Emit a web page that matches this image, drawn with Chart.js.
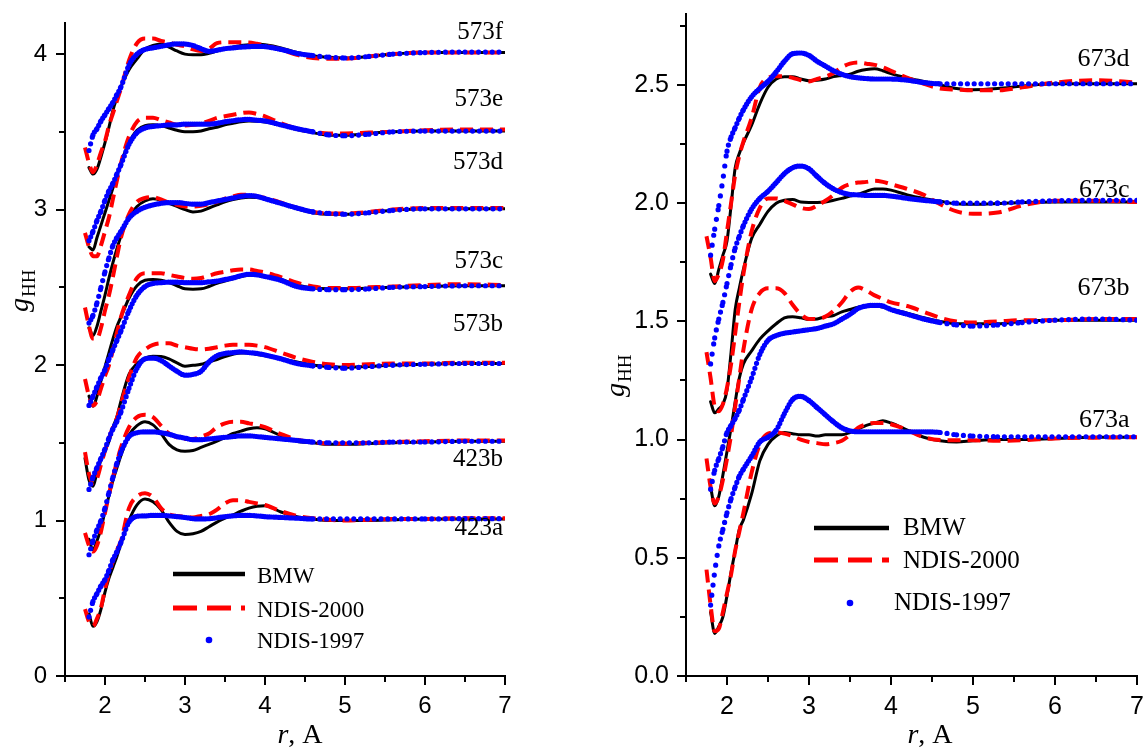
<!DOCTYPE html>
<html><head><meta charset="utf-8">
<script src="https://cdn.jsdelivr.net/npm/chart.js@4.4.0/dist/chart.umd.min.js"></script>
<style>
html,body{margin:0;padding:0;background:#fff;}
#wrap{position:relative;width:1145px;height:749px;overflow:hidden;}
#L{position:absolute;left:0;top:0;width:560px;height:749px;}
#R{position:absolute;left:560px;top:0;width:585px;height:749px;}
</style>
</head><body>
<div id="wrap"><div id="L"><canvas id="cL"></canvas></div><div id="R"><canvas id="cR"></canvas></div></div>
<script>
// ---------- shared r grid (Angstrom) ----------
const r = [1.75,1.8,1.85,1.9,1.95, 2.0,2.05,2.1,2.15,2.2, 2.3,2.4,2.5,2.6,2.7, 2.8,2.9,3.0,3.1,3.2,
           3.3,3.4,3.5,3.6,3.7, 3.8,3.9,4.0,4.2,4.4, 4.6,4.8,5.0,5.3,5.6, 6.0,6.5,7.0];

// ---------- tick labels ----------
const X_TICKS = [2,3,4,5,6,7];
const X_MINOR = [1.5,2.5,3.5,4.5,5.5,6.5];
const Y_TICKS_L = [0,1,2,3,4];
const Y_MINOR_L = [0.5,1.5,2.5,3.5];
const Y_TICKS_R = [0,0.5,1,1.5,2,2.5];
const Y_MINOR_R = [0.25,0.75,1.25,1.75,2.25,2.75];

const SERIES = ['BMW','NDIS-2000','NDIS-1997'];
const LABELS_L = ['573f','573e','573d','573c','573b','423b','423a'];
const LABELS_R = ['673d','673c','673b','673a'];

// ---------- left panel data ----------
const bmw_423a = [null,0.4,0.32,0.35,0.43, 0.54,0.63,0.7,0.77,0.85, 1.0,1.1,1.138,1.12,1.07, 0.99,0.93,0.91,0.915,0.93, 0.96,0.99,1.015,1.037,1.06, 1.08,1.092,1.095,1.055,1.025, 1.01,1.0,1.0,1.0,1.005, 1.01,1.01,1.01];
const n2000_423a = [0.43,0.35,0.32,0.37,0.44, 0.56,0.66,0.74,0.81,0.87, 1.08,1.155,1.175,1.15,1.08, 1.04,1.03,1.025,1.02,1.03, 1.04,1.07,1.11,1.13,1.13, 1.12,1.11,1.1,1.06,1.03, 1.015,1.005,1.0,1.005,1.01, 1.01,1.015,1.015];
const n1997_423a = [null,0.38,0.48,0.53,0.58, 0.62,0.68,0.75,0.8,0.86, 0.99,1.027,1.03,1.033,1.033, 1.03,1.025,1.02,1.012,1.01, 1.012,1.018,1.025,1.03,1.033, 1.033,1.03,1.025,1.02,1.015, 1.01,1.01,1.01,1.01,1.01, 1.01,1.012,1.012];

const bmw_423b = [null,0.88,0.81,0.87,0.95, 1.06,1.16,1.26,1.34,1.42, 1.55,1.61,1.635,1.615,1.56, 1.49,1.455,1.445,1.45,1.47, 1.49,1.51,1.535,1.56,1.575, 1.59,1.597,1.59,1.545,1.51, 1.5,1.49,1.49,1.495,1.5, 1.505,1.51,1.51];
const n2000_423b = [0.92,0.84,0.8,0.84,0.93, 1.05,1.17,1.28,1.38,1.47, 1.6,1.665,1.68,1.665,1.61, 1.56,1.535,1.525,1.525,1.54, 1.56,1.6,1.625,1.635,1.635, 1.625,1.615,1.6,1.555,1.52, 1.505,1.495,1.495,1.5,1.505, 1.51,1.515,1.515];
const n1997_423b = [null,0.78,0.87,0.94,1.0, 1.08,1.18,1.28,1.37,1.44, 1.54,1.565,1.57,1.57,1.565, 1.555,1.54,1.53,1.52,1.52, 1.525,1.53,1.535,1.54,1.545, 1.545,1.54,1.535,1.525,1.515, 1.505,1.5,1.5,1.5,1.505, 1.505,1.51,1.51];

const bmw_573b = [1.4,1.26,1.22,1.31,1.39, 1.45,1.51,1.6,1.67,1.77, 1.94,2.01,2.045,2.057,2.055, 2.04,2.014,1.993,1.998,2.005, 2.022,2.035,2.055,2.07,2.078, 2.078,2.068,2.06,2.04,2.02, 2.0,1.99,1.985,1.99,2.0, 2.005,2.01,2.01];
const n2000_573b = [1.44,1.3,1.24,1.27,1.36, 1.45,1.53,1.6,1.66,1.75, 1.92,2.05,2.1,2.13,2.14, 2.14,2.125,2.115,2.105,2.1, 2.105,2.115,2.125,2.13,2.13, 2.13,2.125,2.115,2.08,2.045, 2.02,2.005,2.0,2.005,2.01, 2.01,2.015,2.015];
const n1997_573b = [null,1.2,1.28,1.34,1.4, 1.46,1.53,1.59,1.64,1.7, 1.85,1.98,2.04,2.045,2.03, 1.995,1.96,1.935,1.94,1.96, 2.02,2.06,2.075,2.08,2.085, 2.08,2.075,2.065,2.04,2.01, 1.995,1.985,1.98,1.99,2.0, 2.005,2.01,2.01];

const bmw_573c = [null,1.8,1.735,1.8,1.9, 1.99,2.08,2.17,2.25,2.31, 2.43,2.51,2.545,2.55,2.545, 2.53,2.51,2.49,2.488,2.49, 2.505,2.525,2.54,2.555,2.57, 2.578,2.58,2.57,2.55,2.515, 2.495,2.49,2.49,2.495,2.5, 2.505,2.51,2.51];
const n2000_573c = [1.91,1.8,1.74,1.77,1.85, 1.93,2.0,2.1,2.21,2.31, 2.45,2.56,2.59,2.59,2.59, 2.58,2.57,2.56,2.555,2.56, 2.575,2.59,2.6,2.61,2.615, 2.615,2.605,2.595,2.565,2.53, 2.505,2.495,2.495,2.5,2.505, 2.515,2.52,2.515];
const n1997_573c = [null,1.74,1.8,1.86,1.92, 1.97,2.04,2.1,2.16,2.22, 2.35,2.45,2.505,2.525,2.53, 2.533,2.533,2.53,2.53,2.53, 2.535,2.54,2.55,2.56,2.575, 2.584,2.58,2.57,2.545,2.505, 2.49,2.485,2.485,2.49,2.5, 2.505,2.51,2.51];

const bmw_573d = [null,2.24,2.19,2.25,2.35, 2.45,2.56,2.66,2.75,2.83, 2.95,3.02,3.055,3.07,3.06, 3.04,3.02,3.0,2.985,2.99, 3.01,3.03,3.05,3.065,3.075, 3.08,3.078,3.07,3.04,3.005, 2.98,2.97,2.97,2.98,2.995, 3.005,3.005,3.005];
const n2000_573d = [2.37,2.25,2.17,2.17,2.24, 2.35,2.45,2.57,2.7,2.82, 2.97,3.05,3.075,3.08,3.065, 3.045,3.03,3.02,3.02,3.025, 3.035,3.05,3.07,3.085,3.095, 3.095,3.085,3.075,3.045,3.01, 2.985,2.975,2.975,2.985,3.0, 3.01,3.01,3.01];
const n1997_573d = [null,2.27,2.32,2.4,2.5, 2.6,2.69,2.77,2.82,2.86, 2.945,2.99,3.015,3.03,3.04, 3.045,3.045,3.04,3.035,3.035, 3.045,3.055,3.065,3.075,3.085, 3.09,3.085,3.07,3.04,3.01, 2.985,2.975,2.97,2.98,2.995, 3.005,3.005,3.005];

const bmw_573e = [null,2.76,2.74,2.82,2.9, 2.98,3.06,3.14,3.22,3.3, 3.43,3.51,3.54,3.545,3.54, 3.525,3.51,3.5,3.5,3.505, 3.52,3.53,3.545,3.555,3.565, 3.57,3.568,3.563,3.545,3.515, 3.495,3.478,3.478,3.49,3.5, 3.505,3.505,3.505];
const n2000_573e = [2.85,2.76,2.7,2.7,2.77, 2.86,2.95,3.07,3.19,3.3, 3.47,3.565,3.59,3.59,3.575, 3.56,3.545,3.54,3.545,3.555, 3.57,3.59,3.6,3.61,3.62, 3.625,3.615,3.6,3.555,3.52, 3.5,3.49,3.49,3.495,3.5, 3.51,3.515,3.515];
const n1997_573e = [null,2.8,2.86,2.93,2.99, 3.06,3.12,3.17,3.23,3.29, 3.42,3.495,3.525,3.535,3.54, 3.545,3.545,3.55,3.55,3.55, 3.55,3.555,3.565,3.572,3.578, 3.58,3.575,3.57,3.545,3.52, 3.5,3.48,3.475,3.485,3.5, 3.505,3.505,3.505];

const bmw_573f = [null,3.27,3.228,3.26,3.34, 3.43,3.53,3.64,3.72,3.79, 3.9,3.97,4.03,4.055,4.065, 4.045,4.02,4.0,3.995,3.995, 4.005,4.02,4.035,4.045,4.055, 4.06,4.065,4.06,4.04,4.01, 3.99,3.98,3.975,3.985,4.0, 4.01,4.01,4.01];
const n2000_573f = [3.4,3.3,3.24,3.29,3.37, 3.44,3.54,3.62,3.7,3.78, 3.96,4.07,4.1,4.1,4.085, 4.075,4.06,4.05,4.03,4.02, 4.035,4.07,4.076,4.076,4.076, 4.075,4.066,4.055,4.03,3.995, 3.975,3.97,3.97,3.985,4.0, 4.01,4.01,4.01];
const n1997_573f = [null,3.38,3.48,3.52,3.57, 3.61,3.65,3.69,3.74,3.79, 3.93,4.0,4.03,4.04,4.05, 4.06,4.066,4.065,4.055,4.035, 4.018,4.025,4.035,4.04,4.045, 4.048,4.05,4.048,4.03,4.005, 3.99,3.98,3.975,3.985,4.0, 4.01,4.013,4.013];

// ---------- right panel data ----------
const bmw_673a = [null,0.27,0.18,0.21,0.25, 0.34,0.44,0.53,0.62,0.66, 0.77,0.91,0.98,1.015,1.03, 1.025,1.02,1.02,1.015,1.02, 1.02,1.02,1.03,1.045,1.06, 1.07,1.08,1.07,1.04,1.01, 0.995,0.99,0.995,1.0,1.0, 1.005,1.01,1.01];
const n2000_673a = [0.45,0.3,0.19,0.2,0.27, 0.35,0.43,0.53,0.61,0.69, 0.86,0.98,1.025,1.03,1.025, 1.015,1.0,0.99,0.985,0.98, 0.985,0.995,1.02,1.05,1.065, 1.07,1.07,1.065,1.04,1.01, 0.998,0.997,0.997,0.995,0.997, 1.005,1.008,1.01];
const n1997_673a = [null,0.3,0.44,0.55,0.62, 0.69,0.75,0.8,0.845,0.875, 0.93,0.99,1.01,1.04,1.11, 1.17,1.183,1.165,1.135,1.105, 1.075,1.05,1.037,1.033,1.033, 1.033,1.033,1.033,1.033,1.033, 1.03,1.02,1.015,1.012,1.012, 1.012,1.012,1.012];

const bmw_673b = [null,0.8,0.72,0.76,0.85, 0.95,1.05,1.16,1.26,1.32, 1.375,1.425,1.46,1.49,1.515, 1.52,1.515,1.508,1.51,1.52, 1.525,1.54,1.55,1.56,1.565, 1.568,1.56,1.55,1.535,1.515, 1.5,1.49,1.49,1.49,1.5, 1.505,1.505,1.505];
const n2000_673b = [0.92,0.8,0.73,0.76,0.83, 0.92,1.02,1.14,1.26,1.38, 1.55,1.62,1.64,1.64,1.62, 1.57,1.53,1.51,1.51,1.52, 1.545,1.58,1.625,1.643,1.63, 1.61,1.595,1.58,1.565,1.54, 1.515,1.5,1.495,1.5,1.505, 1.505,1.51,1.51];
const n1997_673b = [null,0.79,0.87,0.92,0.97, 1.03,1.06,1.09,1.125,1.17, 1.26,1.36,1.42,1.44,1.45, 1.455,1.46,1.465,1.47,1.48, 1.49,1.51,1.53,1.555,1.565, 1.568,1.565,1.55,1.53,1.51, 1.495,1.485,1.48,1.485,1.495, 1.505,1.51,1.505];

const bmw_673c = [null,1.16,1.113,1.13,1.15, 1.21,1.37,1.55,1.64,1.72, 1.85,1.91,1.965,2.0,2.012, 2.015,2.005,2.003,2.003,2.005, 2.012,2.02,2.03,2.038,2.05, 2.06,2.06,2.055,2.035,2.02, 2.008,1.997,1.995,1.998,2.003, 2.005,2.005,2.005];
const n2000_673c = [1.37,1.26,1.14,1.12,1.15, 1.22,1.32,1.45,1.58,1.7, 1.88,1.98,2.02,2.02,2.01, 1.995,1.98,1.975,1.99,2.01, 2.035,2.065,2.08,2.087,2.09, 2.095,2.09,2.08,2.06,2.035, 1.995,1.965,1.955,1.96,1.99, 2.01,2.01,2.005];
const n1997_673c = [null,1.32,1.43,1.51,1.58, 1.66,1.74,1.81,1.86,1.905, 1.975,2.02,2.05,2.087,2.125, 2.15,2.157,2.145,2.113,2.083, 2.06,2.045,2.037,2.035,2.033, 2.033,2.033,2.03,2.02,2.012, 2.005,2.0,2.0,2.0,2.005, 2.01,2.012,2.012];

const bmw_673d = [null,1.7,1.66,1.72,1.78, 1.84,1.99,2.15,2.21,2.255, 2.33,2.42,2.49,2.525,2.535, 2.535,2.525,2.518,2.52,2.525, 2.535,2.54,2.545,2.558,2.565, 2.568,2.56,2.548,2.53,2.515, 2.5,2.485,2.48,2.485,2.495, 2.505,2.505,2.505];
const n2000_673d = [1.86,1.77,1.67,1.7,1.76, 1.88,2.0,2.12,2.2,2.26, 2.36,2.49,2.53,2.537,2.537, 2.53,2.52,2.515,2.525,2.535, 2.55,2.575,2.59,2.595,2.59, 2.585,2.575,2.56,2.53,2.505, 2.485,2.48,2.477,2.477,2.49, 2.51,2.52,2.51];
const n1997_673d = [null,1.78,1.89,1.99,2.1, 2.22,2.28,2.32,2.36,2.395, 2.45,2.485,2.515,2.555,2.6, 2.632,2.635,2.625,2.6,2.58, 2.56,2.545,2.535,2.53,2.527, 2.525,2.525,2.525,2.52,2.51, 2.505,2.505,2.505,2.505,2.505, 2.505,2.505,2.505];

// ---------- styling ----------
const STYLE = {
  'BMW':       {borderColor:'#000000', borderWidth:3, order:3, borderCapStyle:'round'},
  'NDIS-2000': {borderColor:'#ff0000', borderWidth:4, order:2, borderDash:[13,7], borderCapStyle:'butt'},
  'NDIS-1997': {borderColor:'#0000ff', borderWidth:5.2, order:1, borderDash:[0,3], borderCapStyle:'round'}
};
function mk(name, vals){
  const data = [];
  r.forEach((x,i)=>{ if(vals[i]!==null && vals[i]!==undefined) data.push({x:x, y:vals[i]}); });
  const ds = Object.assign({label:name, data, pointRadius:0, fill:false,
    cubicInterpolationMode:'monotone', borderJoinStyle:'round'}, STYLE[name]);
  if (name === 'NDIS-1997') {
    // dots: dense at small r, sparser at large r; spread out where the curve is steep
    ds.segment = { borderDash: c => {
      const dx = Math.abs(c.p1.x - c.p0.x) || 0.01, dy = Math.abs(c.p1.y - c.p0.y);
      const f = Math.hypot(dx, dy) / dx;
      const far = data[c.p0DataIndex].x >= 4.6;
      const g = far ? 6.8 * f : Math.max(2.2, 1.7 * f);
      return [0, Math.min(10, g)];
    }};
  }
  return ds;
}
function group(b, n2, n1){ return [mk('BMW',b), mk('NDIS-2000',n2), mk('NDIS-1997',n1)]; }

const dsL = [].concat(
  group(bmw_423a,n2000_423a,n1997_423a), group(bmw_423b,n2000_423b,n1997_423b),
  group(bmw_573b,n2000_573b,n1997_573b), group(bmw_573c,n2000_573c,n1997_573c),
  group(bmw_573d,n2000_573d,n1997_573d), group(bmw_573e,n2000_573e,n1997_573e),
  group(bmw_573f,n2000_573f,n1997_573f));
const dsR = [].concat(
  group(bmw_673a,n2000_673a,n1997_673a), group(bmw_673b,n2000_673b,n1997_673b),
  group(bmw_673c,n2000_673c,n1997_673c), group(bmw_673d,n2000_673d,n1997_673d));

// ---------- decoration plugin: ticks, labels, legend, axis titles ----------
const SERIF = '"Liberation Serif","Times New Roman",serif';
const deco = {
  id:'deco',
  afterDraw(chart, args, o){
    const ctx = chart.ctx, xs = chart.scales.x, ys = chart.scales.y, a = chart.chartArea;
    ctx.save();
    ctx.strokeStyle = '#000'; ctx.lineWidth = 2; ctx.lineCap = 'butt';
    const tick = (x1,y1,x2,y2)=>{ ctx.beginPath(); ctx.moveTo(x1,y1); ctx.lineTo(x2,y2); ctx.stroke(); };
    X_TICKS.forEach(v=>{ const p = Math.round(xs.getPixelForValue(v)); tick(p,a.bottom,p,a.bottom+9); });
    X_MINOR.forEach(v=>{ const p = Math.round(xs.getPixelForValue(v)); tick(p,a.bottom,p,a.bottom+6); });
    o.yMajor.forEach(v=>{ const p = Math.round(ys.getPixelForValue(v)); tick(a.left,p,a.left-9,p); });
    o.yMinor.forEach(v=>{ const p = Math.round(ys.getPixelForValue(v)); tick(a.left,p,a.left-6,p); });

    // curve labels
    ctx.fillStyle = '#000';
    ctx.font = o.labFont + 'px ' + SERIF;
    ctx.textAlign = 'right'; ctx.textBaseline = 'alphabetic';
    o.labels.forEach((t,i)=>{ ctx.fillText(t, xs.getPixelForValue(o.labX), ys.getPixelForValue(o.labY[i])); });

    // legend
    const L = o.legend;
    ctx.textAlign = 'left';
    ctx.font = L.font + 'px ' + SERIF;
    ctx.strokeStyle = '#000'; ctx.lineWidth = 4.5; ctx.setLineDash([]);
    tick(L.x0, L.rows[0], L.x1, L.rows[0]);
    ctx.strokeStyle = '#ff0000'; ctx.lineWidth = 5; ctx.setLineDash([24,10]);
    tick(L.x0, L.rows[1], L.x1, L.rows[1]);
    ctx.setLineDash([]);
    ctx.fillStyle = '#0000ff';
    ctx.beginPath(); ctx.arc(L.dotX, L.rows[2], 3.3, 0, Math.PI*2); ctx.fill();
    ctx.fillStyle = '#000';
    SERIES.forEach((s,i)=>{ ctx.fillText(s, L.textX[i], L.base[i]); });

    // x title: "r, A"
    ctx.font = 'italic ' + o.xt.size + 'px ' + SERIF;
    const w1 = ctx.measureText('r').width;
    ctx.font = o.xt.size + 'px ' + SERIF;
    const w2 = ctx.measureText(', A').width;
    const x0 = o.xt.cx - (w1 + w2)/2;
    ctx.font = 'italic ' + o.xt.size + 'px ' + SERIF;
    ctx.fillText('r', x0, o.xt.base);
    ctx.font = o.xt.size + 'px ' + SERIF;
    ctx.fillText(', A', x0 + w1, o.xt.base);

    // y title: g_HH rotated
    ctx.translate(o.yt.x, o.yt.y);
    ctx.rotate(-Math.PI/2);
    ctx.font = 'italic ' + o.yt.size + 'px ' + SERIF;
    ctx.fillText('g', 0, 0);
    const gw = ctx.measureText('g').width;
    ctx.font = o.yt.sub + 'px ' + SERIF;
    ctx.fillText('HH', gw + 1, 7);
    ctx.restore();
  }
};

function makeChart(id, datasets, c){
  return new Chart(document.getElementById(id), {
    type:'line',
    data:{datasets},
    options:{
      responsive:true, maintainAspectRatio:false, animation:false, events:[],
      layout:{padding:{top:c.padTop, right:c.padRight, left:0, bottom:0}},
      plugins:{legend:{display:false}, tooltip:{enabled:false}, deco:c.deco},
      scales:{
        x:{type:'linear', min:1.5, max:7,
           afterBuildTicks:s=>{ s.ticks = X_TICKS.map(v=>({value:v})); },
           afterFit:s=>{ s.height = 73; s.paddingLeft = 0; s.paddingRight = 0; },
           grid:{display:false, drawTicks:false},
           border:{display:true, color:'#000', width:2},
           ticks:{color:'#000', font:{family:'"Liberation Sans",Arial,sans-serif', size:c.tickFont},
                  padding:c.xPad, maxRotation:0, autoSkip:false, callback:v=>String(v)}},
        y:{type:'linear', min:0, max:c.yMax,
           afterBuildTicks:s=>{ s.ticks = c.yTicks.map(v=>({value:v})); },
           afterFit:s=>{ s.width = c.yWidth; s.paddingTop = 0; s.paddingBottom = 0; },
           grid:{display:false, drawTicks:false},
           border:{display:true, color:'#000', width:2},
           ticks:{color:'#000', font:{family:'"Liberation Sans",Arial,sans-serif', size:c.tickFont},
                  padding:c.yPad, autoSkip:false, callback:c.yFmt}}
      }
    },
    plugins:[deco]
  });
}

makeChart('cL', dsL, {
  padTop:23, padRight:55, yWidth:65, yMax:4.2, yTicks:Y_TICKS_L, tickFont:24, xPad:16, yPad:18,
  yFmt:v=>String(v),
  deco:{yMajor:Y_TICKS_L, yMinor:Y_MINOR_L, labels:LABELS_L, labFont:25, labX:6.975,
        labY:[4.098,3.668,3.26,2.627,2.218,1.353,0.908],
        legend:{x0:173, x1:245, rows:[574,608,640], dotX:209, textX:[257,257,257], base:[583,617,648], font:23},
        xt:{cx:300, base:743, size:28},
        yt:{x:28, y:312, size:28, sub:19}}
});
makeChart('cR', dsR, {
  padTop:14, padRight:8, yWidth:126, yMax:2.8, yTicks:Y_TICKS_R, tickFont:25, xPad:16, yPad:17,
  yFmt:v=>v.toFixed(1),
  deco:{yMajor:Y_TICKS_R, yMinor:Y_MINOR_R, labels:LABELS_R, labFont:26, labX:6.908,
        labY:[2.581,2.025,1.611,1.055],
        legend:{x0:254, x1:329, rows:[528,560,603], dotX:290, textX:[343,343,334], base:[535,568,610], font:25},
        xt:{cx:370, base:743, size:28},
        yt:{x:64, y:397, size:28, sub:19}}
});
</script>
</body></html>
